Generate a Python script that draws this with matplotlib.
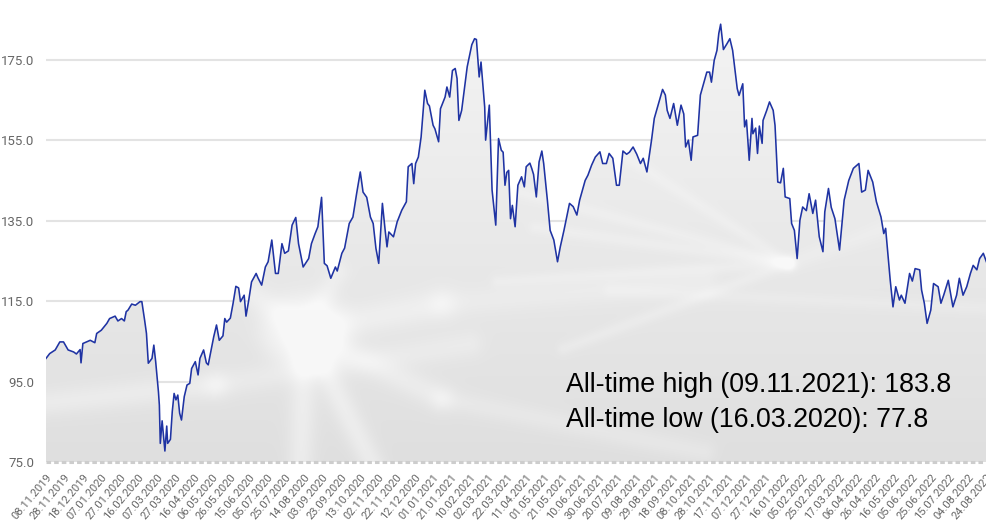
import numpy as np
import matplotlib.pyplot as plt
import matplotlib.dates as mdates
from matplotlib.patches import Polygon

# index level, as (days since 08.11.2019, value)
start = np.datetime64('2019-11-08')
day_offsets = [
    0, 4, 10, 15, 19, 24, 30, 33, 37, 38, 40, 44, 48, 53, 55, 60, 66, 69, 75, 78,
    82, 85, 87, 89, 93, 97, 102, 104, 107, 109, 111, 115, 117, 119, 122, 123, 124, 126, 129, 131,
    132, 135, 137, 139, 141, 143, 145, 147, 150, 153, 156, 158, 162, 165, 167, 171, 174, 176, 182, 185,
    188, 192, 194, 196, 200, 203, 206, 209, 211, 215, 217, 220, 223, 228, 230, 234, 238, 241, 245, 249,
    252, 256, 259, 263, 267, 271, 274, 279, 285, 288, 292, 295, 299, 302, 305, 309, 314, 316, 321, 324,
    329, 333, 337, 341, 344, 348, 352, 355, 358, 361, 363, 365, 368, 370, 372, 377, 381, 386, 391, 393,
    397, 399, 401, 404, 407, 409, 411, 414, 416, 420, 422, 426, 428, 433, 435, 438, 441, 444, 446, 448,
    451, 454, 457, 462, 465, 467, 470, 472, 476, 477, 481, 484, 488, 491, 494, 496, 498, 500, 502, 504,
    506, 509, 512, 516, 519, 521, 525, 527, 529, 532, 535, 538, 540, 544, 547, 551, 555, 558, 562, 568,
    572, 576, 579, 585, 588, 592, 596, 601, 604, 608, 611, 615, 619, 622, 626, 630, 633, 637, 641, 645,
    648, 652, 657, 660, 663, 669, 672, 674, 677, 681, 685, 689, 692, 694, 697, 700, 702, 707, 710, 713,
    717, 720, 722, 725, 728, 730, 732, 735, 739, 742, 745, 750, 752, 756, 758, 760, 763, 766, 767, 770,
    772, 774, 777, 778, 782, 785, 789, 791, 794, 797, 800, 802, 807, 809, 812, 815, 818, 821, 825, 828,
    832, 835, 839, 843, 845, 849, 852, 856, 861, 866, 871, 876, 882, 885, 889, 892, 897, 901, 906, 909,
    911, 916, 919, 922, 926, 928, 932, 937, 940, 943, 948, 950, 953, 956, 960, 963, 968, 971, 974, 979,
    984, 988, 991, 995, 999, 1003, 1006, 1010, 1013, 1017, 1021,
]
values = [
    100.8, 102.0, 102.9, 104.9, 104.9, 102.9, 102.4, 101.9, 103.0, 99.7, 104.5, 104.9, 105.3, 104.7, 107.0, 107.8, 109.5, 110.7, 111.3, 110.1,
    110.7, 110.1, 112.4, 112.8, 114.3, 114.0, 114.9, 114.9, 110.3, 107.0, 99.6, 100.8, 104.1, 100.0, 92.5, 89.2, 79.7, 85.3, 77.8, 84.0,
    79.7, 80.7, 87.6, 92.1, 90.5, 91.7, 87.2, 85.5, 91.3, 94.2, 94.6, 98.3, 100.0, 96.7, 100.8, 102.9, 99.7, 99.2, 106.2, 109.1,
    105.3, 106.4, 110.7, 109.8, 110.8, 114.5, 118.7, 118.3, 114.9, 116.5, 111.3, 115.3, 119.8, 121.9, 120.8, 119.0, 123.5, 124.8, 130.2, 121.9,
    121.9, 129.3, 126.9, 127.5, 133.9, 135.8, 129.3, 123.5, 125.6, 129.3, 131.8, 133.5, 140.8, 124.4, 123.8, 120.7, 123.5, 122.5, 126.9, 128.2,
    134.3, 135.9, 141.7, 147.1, 142.1, 140.8, 135.9, 134.3, 128.1, 124.4, 131.8, 139.3, 132.6, 128.5, 132.2, 131.0, 134.7, 137.6, 139.7, 148.4,
    149.2, 144.2, 149.2, 150.8, 155.8, 161.6, 167.4, 164.1, 163.5, 158.7, 157.8, 154.6, 162.8, 165.7, 168.2, 165.7, 172.3, 172.8, 170.3, 159.9,
    162.4, 167.8, 173.2, 178.7, 180.2, 180.0, 170.7, 174.4, 163.2, 155.0, 163.7, 142.6, 133.9, 155.4, 152.5, 152.0, 143.8, 147.0, 147.5, 135.5,
    138.8, 133.5, 143.8, 145.9, 143.4, 148.4, 149.3, 148.0, 146.5, 140.9, 149.6, 152.3, 149.2, 140.1, 132.6, 130.2, 124.8, 128.5, 132.6, 139.3,
    138.5, 136.4, 140.1, 145.0, 146.3, 148.8, 150.8, 152.1, 149.2, 149.2, 151.7, 150.5, 143.8, 143.8, 152.3, 151.5, 152.0, 153.3, 151.5, 149.2,
    150.5, 147.1, 155.0, 160.4, 162.8, 167.6, 166.2, 162.4, 160.4, 164.1, 158.7, 163.7, 161.5, 153.3, 155.0, 150.0, 155.8, 156.2, 166.2, 168.6,
    171.9, 171.9, 169.4, 174.8, 177.3, 181.5, 183.8, 177.5, 179.0, 180.2, 177.3, 167.8, 166.1, 169.0, 158.3, 160.0, 150.0, 160.4, 156.6, 158.0,
    151.7, 158.5, 154.2, 159.9, 162.4, 164.5, 162.4, 158.7, 144.6, 144.4, 148.0, 140.9, 140.5, 134.3, 132.6, 125.6, 135.1, 138.4, 137.5, 141.7,
    136.8, 140.1, 131.0, 127.3, 137.2, 143.0, 138.3, 135.5, 127.7, 140.1, 145.0, 148.0, 149.2, 142.1, 142.6, 147.5, 144.6, 139.7, 135.9, 131.8,
    133.1, 120.2, 113.6, 118.6, 115.3, 116.5, 114.5, 121.9, 120.0, 123.1, 122.8, 117.8, 114.5, 109.5, 112.8, 119.4, 118.6, 114.5, 116.5, 120.2,
    113.6, 116.5, 120.7, 116.5, 118.6, 121.9, 123.9, 122.8, 125.6, 126.9, 124.4,
]
y_ticks = [75, 95, 115, 135, 155, 175]
tick_step_days = 20
last_tick_day = 1020
high_label = 'All-time high (09.11.2021): 183.8'
low_label = 'All-time low (16.03.2020): 77.8'

LINE = '#1f33a3'
TICK_GREY = '#666666'
NARROW = ['Liberation Sans Narrow', 'Roboto', 'DejaVu Sans']


def soft_texture(h=320, w=660):
    '''grey backdrop with a few blurred white strands, like the faded picture behind the area'''
    v, u = np.mgrid[0:1:h * 1j, 0:1:w * 1j]   # v = 0 at top
    img = 0.955 - 0.08 * v
    asp = 941 / 451
    glow = np.zeros_like(img)

    def seg(p0, p1, width, strength):
        # distance from each pixel to a segment, aspect corrected
        x0, y0 = p0[0] * asp, p0[1]
        x1, y1 = p1[0] * asp, p1[1]
        px, py = u * asp, v
        dx, dy = x1 - x0, y1 - y0
        t = np.clip(((px - x0) * dx + (py - y0) * dy) / (dx * dx + dy * dy), 0, 1)
        d = np.hypot(px - (x0 + t * dx), py - (y0 + t * dy))
        return strength * np.exp(-(d / width) ** 2)

    # neuron body with its branches
    body = (0.275, 0.71)
    r2 = ((u - body[0]) / 0.048) ** 2 + ((v - body[1]) / 0.085) ** 2
    glow += 0.85 * np.exp(-r2 ** 2)
    for end, wd, s in [((0.27, 1.02), 0.03, 0.55), ((0.35, 1.02), 0.028, 0.55),
                       ((0.22, 0.63), 0.03, 0.45), ((0.42, 0.65), 0.035, 0.5),
                       ((0.42, 0.86), 0.03, 0.45), ((0.31, 0.58), 0.025, 0.4)]:
        glow += seg(body, end, wd, s)
    glow += seg((0.42, 0.65), (0.70, 0.60), 0.03, 0.3)
    glow += seg((0.42, 0.86), (0.70, 0.98), 0.025, 0.3)
    # soft band on the left
    glow += seg((0.0, 0.87), (0.18, 0.83), 0.03, 0.45)
    glow += seg((0.18, 0.83), (0.45, 0.74), 0.03, 0.35)
    # thin rays meeting right of the centre
    focus = (0.79, 0.56)
    for start_pt in [(0.50, 0.40), (0.52, 0.48), (0.48, 0.60), (0.55, 0.75), (0.60, 0.30)]:
        glow += seg(start_pt, focus, 0.014, 0.3)
    glow += seg(focus, (1.0, 0.40), 0.02, 0.25)
    glow += seg((0.6, 0.62), (1.0, 0.66), 0.015, 0.22)
    glow = np.clip(glow, 0, 1)
    img = img + (1 - img) * glow * 0.72
    return np.dstack([img, img, img])


dates = start + np.array(day_offsets).astype('timedelta64[D]')
x = mdates.date2num(dates)
y = np.array(values)
tick_dates = start + np.arange(0, last_tick_day + 1, tick_step_days).astype('timedelta64[D]')
tick_x = mdates.date2num(tick_dates)
tick_labels = [d.astype(object).strftime('%d.%m.%Y') for d in tick_dates]

fig = plt.figure(figsize=(9.87, 5.25), dpi=100)
ax = fig.add_axes([46 / 987, 62.7 / 525, 941 / 987, 451 / 525])
x_lo, x_hi = x[0], x[-1]
y_lo, y_hi = 75, 187
ax.set_xlim(x_lo, x_hi)
ax.set_ylim(y_lo, y_hi)

# area under the line with the textured backdrop
verts = [(x_lo, y_lo)] + list(zip(x, y)) + [(x_hi, y_lo)]
area = Polygon(verts, closed=True, transform=ax.transData, facecolor='none', edgecolor='none')
ax.add_patch(area)
im = ax.imshow(soft_texture(), extent=[x_lo, x_hi, y_lo, y_hi], aspect='auto',
               interpolation='bilinear', zorder=1)
im.set_clip_path(area)

ax.plot(x, y, color=LINE, lw=1.15, zorder=3)
ax.axhline(y_lo, color='#cdcdcd', lw=2.2, ls=(0, (1.5, 1)), zorder=2, clip_on=False)

ax.set_yticks(y_ticks)
ax.set_yticklabels([f'{t:.1f}' for t in y_ticks])
ax.set_xticks(tick_x)
ax.set_xticklabels(tick_labels, rotation=50, ha='right', va='top', rotation_mode='anchor')
ax.yaxis.grid(True, color='#e3e3e3', lw=1.5)
ax.set_axisbelow(True)
for s in ax.spines.values():
    s.set_visible(False)
ax.tick_params(length=0, colors=TICK_GREY)
ax.tick_params(axis='y', pad=8.5, labelsize=9.5)
ax.tick_params(axis='x', pad=7, labelsize=8)
for lab in ax.get_xticklabels() + ax.get_yticklabels():
    lab.set_family(NARROW)

fig.text(566 / 987, 1 - 392 / 525, high_label, fontsize=19.3, family='Liberation Sans', va='baseline')
fig.text(566 / 987, 1 - 427 / 525, low_label, fontsize=19.3, family='Liberation Sans', va='baseline')

fig.savefig('out.png', dpi=100)
